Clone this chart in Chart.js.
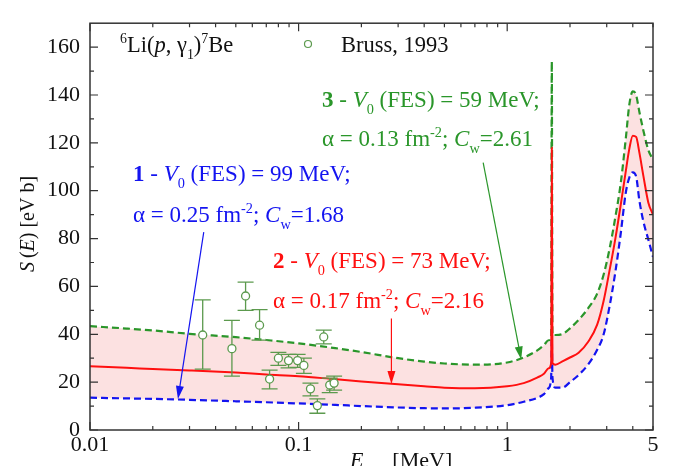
<!DOCTYPE html>
<html>
<head>
<meta charset="utf-8">
<script src="https://cdn.jsdelivr.net/npm/chart.js@4.4.1/dist/chart.umd.min.js"></script>
<style>
  html, body { margin: 0; padding: 0; background: #fff; }
  #wrap { width: 673px; height: 466px; }
</style>
</head>
<body>
<div id="wrap"><canvas id="chart" width="673" height="466"></canvas></div>
<script>
// energies (MeV) shared by the three model curves
const energy = [0.01, 0.015, 0.02, 0.03, 0.05, 0.07, 0.1, 0.15, 0.2, 0.3, 0.4, 0.5, 0.7, 1.0, 1.2, 1.4, 1.5, 1.58, 1.625, 1.636, 1.648, 1.7, 1.85, 2.0, 2.2, 2.45, 2.7, 2.9, 3.1, 3.3, 3.5, 3.7, 3.85, 4.0, 4.15, 4.3, 4.5, 4.75, 5.0];
// curve 3 (green dashed), V0 = 59 MeV
const curve3 = [43.4, 42.4, 41.6, 40.2, 38.8, 37.6, 36.2, 34.2, 32.6, 30.0, 28.6, 27.8, 27.3, 28.2, 30.3, 33.4, 35.5, 37.5, 39.0, 154, 39.7, 39.7, 40.2, 42.5, 46, 51, 57, 65, 76, 89, 103, 121.5, 136, 141.5, 140, 133, 125, 117, 113];
// curve 2 (red solid), V0 = 73 MeV
const curve2 = [26.6, 26.0, 25.5, 24.9, 24.0, 23.2, 22.5, 21.2, 20.3, 19.1, 18.3, 17.7, 17.4, 18.3, 19.6, 22.0, 23.5, 25.8, 28.0, 118, 28.0, 27.3, 28.8, 30.3, 32.3, 37, 44, 54, 67, 80, 94, 108, 117.5, 123, 122.5, 116, 106, 95, 90];
// curve 1 (blue dashed), V0 = 99 MeV
const curve1 = [13.5, 13.2, 13.0, 12.6, 12.0, 11.6, 11.1, 10.5, 10.0, 9.4, 9.1, 9.0, 9.3, 10.4, 11.8, 13.5, 15.0, 17.5, 22.0, 38, 22.0, 17.7, 17.8, 20.0, 23, 27.5, 33.5, 40, 52, 66, 82, 99, 105.5, 107.7, 106, 96, 87, 79.5, 72.3];

// Bruss, 1993 data
const brussE  = [0.0347, 0.0479, 0.0557, 0.065, 0.0726, 0.080, 0.0895, 0.0989, 0.106, 0.114, 0.123, 0.132, 0.141, 0.148];
const brussS  = [39.7, 34.0, 56.0, 43.8, 21.3, 30.0, 29.0, 29.0, 27.0, 17.2, 10.2, 38.9, 18.8, 19.6];
const brussHi = [54.4, 45.8, 61.8, 50.3, 25.0, 32.4, 31.6, 31.6, 30.0, 19.6, 13.0, 41.7, 21.7, 22.5];
const brussLo = [25.4, 22.5, 50.0, 37.6, 17.2, 27.0, 26.0, 26.2, 23.7, 14.3, 7.0, 36.0, 15.6, 16.7];

// ticks
const xTickVals = [0.01, 0.02, 0.03, 0.04, 0.05, 0.06, 0.07, 0.08, 0.09, 0.1, 0.2, 0.3, 0.4, 0.5, 0.6, 0.7, 0.8, 0.9, 1, 2, 3, 4, 5];
const xTickLabels = [0.01, 0.1, 1, 5];
const yTickVals = [0, 20, 40, 60, 80, 100, 120, 140, 160];
const yMinorVals = [10, 30, 50, 70, 90, 110, 130, 150];

const SERIF = '"Liberation Serif", "Times New Roman", serif';
const GREEN = '#2a962a';
const RED = '#ff1010';
const BLUE = '#1414f0';
const POINT_GREEN = '#5c9a4e';

function pts(ys) {
  return energy.map((e, i) => ({ x: e, y: ys[i] }));
}

// rich text: parts = [[text, kind]] kind: r, b, i, sub, sup
function fontFor(kind, size) {
  if (kind === 'sub' || kind === 'sup') return (size * 0.62).toFixed(1) + 'px ' + SERIF;
  if (kind === 'b') return 'bold ' + size + 'px ' + SERIF;
  if (kind === 'i') return 'italic ' + size + 'px ' + SERIF;
  return size + 'px ' + SERIF;
}

function richWidth(ctx, parts, size) {
  let w = 0;
  ctx.save();
  for (const [t, kind] of parts) { ctx.font = fontFor(kind, size); w += ctx.measureText(t).width; }
  ctx.restore();
  return w;
}

function drawRich(ctx, x, y, parts, color, size) {
  ctx.save();
  ctx.fillStyle = color;
  ctx.textBaseline = 'alphabetic';
  ctx.textAlign = 'left';
  let cx = x;
  for (const [t, kind] of parts) {
    let dy = 0;
    if (kind === 'sub') dy = size * 0.3;
    if (kind === 'sup') dy = -size * 0.38;
    ctx.font = fontFor(kind, size);
    ctx.fillText(t, cx, y + dy);
    cx += ctx.measureText(t).width;
  }
  ctx.restore();
}

function arrow(ctx, x1, y1, x2, y2, color) {
  const ang = Math.atan2(y2 - y1, x2 - x1);
  const len = 13, half = 4;
  ctx.save();
  ctx.strokeStyle = color;
  ctx.fillStyle = color;
  ctx.lineWidth = 1.2;
  ctx.beginPath();
  ctx.moveTo(x1, y1);
  ctx.lineTo(x2 - Math.cos(ang) * len * 0.8, y2 - Math.sin(ang) * len * 0.8);
  ctx.stroke();
  ctx.beginPath();
  ctx.moveTo(x2, y2);
  ctx.lineTo(x2 - Math.cos(ang) * len - Math.sin(ang) * half, y2 - Math.sin(ang) * len + Math.cos(ang) * half);
  ctx.lineTo(x2 - Math.cos(ang) * len + Math.sin(ang) * half, y2 - Math.sin(ang) * len - Math.cos(ang) * half);
  ctx.closePath();
  ctx.fill();
  ctx.restore();
}

const decor = {
  id: 'decor',
  afterDatasetsDraw(chart) {
    const { ctx, chartArea: a, scales: { x, y } } = chart;

    // error bars and open circles
    ctx.save();
    ctx.strokeStyle = POINT_GREEN;
    ctx.lineWidth = 1.3;
    brussE.forEach((e, i) => {
      const px = x.getPixelForValue(e);
      const hi = y.getPixelForValue(brussHi[i]);
      const lo = y.getPixelForValue(brussLo[i]);
      ctx.beginPath();
      ctx.moveTo(px, hi); ctx.lineTo(px, lo);
      ctx.moveTo(px - 8, hi); ctx.lineTo(px + 8, hi);
      ctx.moveTo(px - 8, lo); ctx.lineTo(px + 8, lo);
      ctx.stroke();
    });
    brussE.forEach((e, i) => {
      ctx.beginPath();
      ctx.arc(x.getPixelForValue(e), y.getPixelForValue(brussS[i]), 4, 0, Math.PI * 2);
      ctx.fillStyle = '#fff';
      ctx.fill();
      ctx.stroke();
    });
    ctx.restore();

    // frame and inward ticks
    ctx.save();
    ctx.strokeStyle = '#333';
    ctx.lineWidth = 1.5;
    ctx.strokeRect(a.left, a.top, a.right - a.left, a.bottom - a.top);
    ctx.lineWidth = 1.2;
    ctx.beginPath();
    xTickVals.forEach(v => {
      const px = x.getPixelForValue(v);
      const len = [0.01, 0.1, 1].includes(v) ? 8 : 4;
      ctx.moveTo(px, a.bottom); ctx.lineTo(px, a.bottom - len);
      ctx.moveTo(px, a.top); ctx.lineTo(px, a.top + len);
    });
    yTickVals.forEach(v => {
      const py = y.getPixelForValue(v);
      ctx.moveTo(a.left, py); ctx.lineTo(a.left + 8, py);
      ctx.moveTo(a.right, py); ctx.lineTo(a.right - 8, py);
    });
    yMinorVals.forEach(v => {
      const py = y.getPixelForValue(v);
      ctx.moveTo(a.left, py); ctx.lineTo(a.left + 4, py);
      ctx.moveTo(a.right, py); ctx.lineTo(a.right - 4, py);
    });
    ctx.stroke();
    ctx.restore();

    // axis titles
    const yParts = [['S', 'i'], ['\u2009(', 'r'], ['E', 'i'], [') [eV b]', 'r']];
    ctx.save();
    ctx.translate(34, 224);
    ctx.rotate(-Math.PI / 2);
    drawRich(ctx, -richWidth(ctx, yParts, 20) / 2, 0, yParts, '#111', 20);
    ctx.restore();
    drawRich(ctx, 350, 467, [['E', 'i'], ['c.m.', 'sub'], [' [MeV]', 'r']], '#111', 22);

    // reaction label and legend
    drawRich(ctx, 120, 52, [['6', 'sup'], ['Li(', 'r'], ['p', 'i'], [', γ', 'r'], ['1', 'sub'], [')', 'r'], ['7', 'sup'], ['Be', 'r']], '#111', 22.5);
    ctx.save();
    ctx.strokeStyle = POINT_GREEN;
    ctx.lineWidth = 1.2;
    ctx.beginPath();
    ctx.arc(308, 44, 3.5, 0, Math.PI * 2);
    ctx.stroke();
    ctx.restore();
    drawRich(ctx, 341, 52, [['Bruss, 1993', 'r']], '#111', 22.5);

    // annotations
    const S = 23;
    drawRich(ctx, 322, 107, [['3', 'b'], [' - ', 'r'], ['V', 'i'], ['0', 'sub'], [' (FES) = 59 MeV;', 'r']], GREEN, S);
    drawRich(ctx, 322, 146, [['α = 0.13 fm', 'r'], ['-2', 'sup'], ['; ', 'r'], ['C', 'i'], ['w', 'sub'], ['=2.61', 'r']], GREEN, S);
    drawRich(ctx, 133, 181, [['1', 'b'], [' - ', 'r'], ['V', 'i'], ['0', 'sub'], [' (FES) = 99 MeV;', 'r']], BLUE, S);
    drawRich(ctx, 133, 222, [['α = 0.25 fm', 'r'], ['-2', 'sup'], ['; ', 'r'], ['C', 'i'], ['w', 'sub'], ['=1.68', 'r']], BLUE, S);
    drawRich(ctx, 273, 268, [['2', 'b'], [' - ', 'r'], ['V', 'i'], ['0', 'sub'], [' (FES) = 73 MeV;', 'r']], RED, S);
    drawRich(ctx, 273, 308, [['α = 0.17 fm', 'r'], ['-2', 'sup'], ['; ', 'r'], ['C', 'i'], ['w', 'sub'], ['=2.16', 'r']], RED, S);

    // arrows, anchored in data space
    const P = (e, s) => [x.getPixelForValue(e), y.getPixelForValue(s)];
    arrow(ctx, ...P(0.0351, 82.7), ...P(0.0264, 13.0), BLUE);
    arrow(ctx, ...P(0.2786, 46.6), ...P(0.2786, 19.2), RED);
    arrow(ctx, ...P(0.767, 111.7), ...P(1.167, 29.5), GREEN);
  }
};

new Chart(document.getElementById('chart'), {
  type: 'line',
  data: {
    datasets: [
      {
        label: '3',
        data: pts(curve3),
        order: 1,
        borderColor: GREEN,
        borderWidth: 2.2,
        borderDash: [7, 4],
        pointRadius: 0,
        fill: { target: 2 },
        backgroundColor: 'rgba(250, 200, 200, 0.55)',
        cubicInterpolationMode: 'monotone'
      },
      {
        label: '2',
        data: pts(curve2),
        order: 0,
        borderColor: RED,
        borderWidth: 2,
        pointRadius: 0,
        fill: false,
        cubicInterpolationMode: 'monotone'
      },
      {
        label: '1',
        data: pts(curve1),
        order: 2,
        borderColor: BLUE,
        borderWidth: 2.2,
        borderDash: [7, 4],
        pointRadius: 0,
        fill: false,
        cubicInterpolationMode: 'monotone'
      }
    ]
  },
  options: {
    responsive: false,
    animation: false,
    devicePixelRatio: 1,
    layout: { padding: { left: 0, right: 20, top: 15, bottom: 0 } },
    plugins: {
      legend: { display: false },
      tooltip: { enabled: false },
      filler: { drawTime: 'beforeDatasetsDraw' }
    },
    scales: {
      x: {
        type: 'logarithmic',
        min: 0.01,
        max: 5,
        grid: { display: false, drawTicks: false },
        border: { display: false },
        afterFit: s => { s.height = 36; },
        afterBuildTicks: s => { s.ticks = xTickVals.map(v => ({ value: v })); },
        ticks: {
          autoSkip: false,
          maxRotation: 0,
          padding: 2,
          color: '#111',
          font: { family: SERIF, size: 22 },
          callback: v => (xTickLabels.includes(v) ? String(v) : '')
        }
      },
      y: {
        min: 0,
        max: 170,
        grid: { display: false, drawTicks: false },
        border: { display: false },
        afterFit: s => { s.width = 90; },
        afterBuildTicks: s => { s.ticks = yTickVals.map(v => ({ value: v })); },
        ticks: {
          padding: 10,
          color: '#111',
          font: { family: SERIF, size: 22 }
        }
      }
    }
  },
  plugins: [decor]
});
</script>
</body>
</html>
